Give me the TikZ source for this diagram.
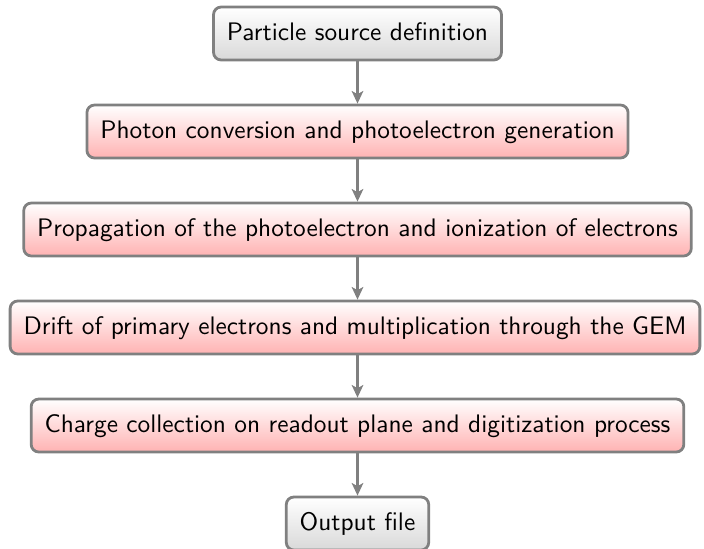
\documentclass[tikz,border=0pt]{standalone}
\usetikzlibrary{arrows.meta}
\begin{document}
\begin{tikzpicture}[x=0.3945pt,y=-0.3945pt,
  stepbox/.style={draw=gray, line width=1.1pt, rounded corners=3pt,
    top color=white, bottom color=red!30, font=\sffamily,
    minimum height=20.9pt, inner xsep=5.3pt, inner ysep=0pt,
    text height=1.6ex, text depth=.4ex},
  endbox/.style={stepbox, bottom color=gray!30},
  flow/.style={draw=gray, line width=0.8pt, -{Stealth[length=5pt,width=4.6pt,inset=1.3pt]}}]
\useasboundingbox (0,0) rectangle (704,548);
\node[endbox]  (s) at (357.5,33.5)  {Particle source definition};
\node[stepbox] (a) at (357.5,131.5) {Photon conversion and photoelectron generation};
\node[stepbox] (b) at (357.5,229.5) {Propagation of the photoelectron and ionization of electrons};
\node[stepbox] (c) at (355,327.5)   {Drift of primary electrons and multiplication through the GEM};
\node[stepbox] (d) at (357.5,425.5) {Charge collection on readout plane and digitization process};
\node[endbox]  (o) at (357.5,523.5) {Output file};
\draw[flow] (s) -- (a);
\draw[flow] (a) -- (b);
\draw[flow] (b) -- (c.north -| b.south);
\draw[flow] (c.south -| d.north) -- (d);
\draw[flow] (d) -- (o);
\end{tikzpicture}
\end{document}
